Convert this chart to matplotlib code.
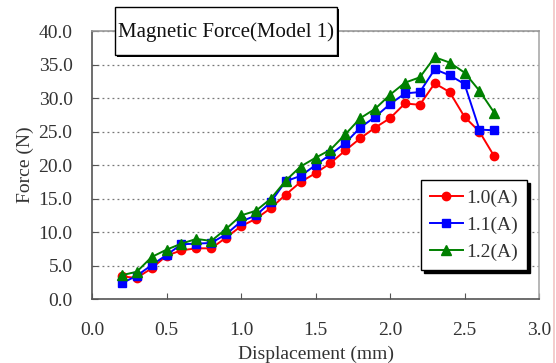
import matplotlib
matplotlib.use("Agg")
import matplotlib.pyplot as plt
from matplotlib.lines import Line2D
from matplotlib.patches import Rectangle

plt.rcParams["font.family"] = ["Liberation Serif", "DejaVu Serif"]

displacement = [0.2, 0.3, 0.4, 0.5, 0.6, 0.7, 0.8, 0.9, 1.0, 1.1, 1.2, 1.3, 1.4,
                1.5, 1.6, 1.7, 1.8, 1.9, 2.0, 2.1, 2.2, 2.3, 2.4, 2.5, 2.6, 2.7]
force_10 = [3.4, 3.2, 4.6, 6.5, 7.3, 7.6, 7.6, 9.2, 10.9, 12.0, 13.6, 15.6, 17.5,
            18.8, 20.3, 22.2, 24.0, 25.6, 27.0, 29.2, 29.0, 32.2, 30.9, 27.2, 25.0, 21.3]
force_11 = [2.4, 3.5, 5.1, 6.6, 8.2, 8.3, 8.4, 9.7, 11.6, 12.5, 14.5, 17.6, 18.4,
            20.0, 21.6, 23.3, 25.6, 27.2, 29.1, 30.7, 30.9, 34.3, 33.4, 32.1, 25.3, 25.2]
force_12 = [3.6, 4.1, 6.3, 7.4, 8.3, 9.0, 8.7, 10.5, 12.5, 13.2, 15.0, 17.7, 19.8,
            21.1, 22.3, 24.6, 27.0, 28.4, 30.5, 32.3, 33.1, 36.1, 35.3, 33.8, 31.1, 27.8]
series_labels = ["1.0(A)", "1.1(A)", "1.2(A)"]

fig = plt.figure(figsize=(5.56, 3.63), dpi=100)
ax = fig.add_axes([0.1655, 0.1755, 0.804, 0.739])

styles = [("red", "o", 6), ("blue", "s", 5.5), ("green", "^", 6.5)]
for ys, label, (c, m, ms) in zip([force_10, force_11, force_12], series_labels, styles):
    ax.plot(displacement, ys, color=c, marker=m, markersize=ms, linewidth=1.4,
            label=label)

ax.set_xlim(0, 3.0)
ax.set_ylim(0, 40)
ax.set_xticks([0.0, 0.5, 1.0, 1.5, 2.0, 2.5, 3.0])
ax.set_yticks(range(0, 41, 5))
ax.xaxis.set_major_formatter(lambda v, p: f"{v:.1f}")
ax.yaxis.set_major_formatter(lambda v, p: f"{v:.1f}")
ax.tick_params(direction="in", length=4, width=0.8, color="#555555",
               labelsize=14, labelcolor="#333333")
ax.tick_params(axis="x", pad=16)
ax.tick_params(axis="y", pad=14)
ax.yaxis.grid(True, linestyle=(0, (1.5, 2.5)), color="#777777", linewidth=0.9)
for side, col in [("left", "#555555"), ("bottom", "#555555"),
                  ("top", "#999999"), ("right", "#aaaaaa")]:
    ax.spines[side].set_color(col)
    ax.spines[side].set_linewidth(1.2)

ax.set_xlabel("Displacement (mm)", fontsize=14, color="#333333", labelpad=5)
ax.set_ylabel("Force (N)", fontsize=14, color="#333333", labelpad=3)

leg = ax.legend(loc="lower right", bbox_to_anchor=(0.973, 0.109),
                borderaxespad=0, fancybox=False, edgecolor="black",
                fontsize=14, handlelength=1.7, handletextpad=0.2,
                labelspacing=0.5, borderpad=0.45,
                shadow={"color": "black", "alpha": 1, "ox": 2, "oy": -2})
leg.get_frame().set_linewidth(1.0)
for t in leg.get_texts():
    t.set_color("#333333")

# title box with a solid drop shadow
W, H = 556, 363
bx0, bx1, by0, by1 = 115, 337, 7, 55
fig.patches.append(Rectangle(((bx0 + 2) / W, 1 - (by1 + 2) / H), (bx1 - bx0) / W,
                             (by1 - by0) / H, transform=fig.transFigure,
                             facecolor="black", edgecolor="none", zorder=5))
fig.patches.append(Rectangle((bx0 / W, 1 - by1 / H), (bx1 - bx0) / W,
                             (by1 - by0) / H, transform=fig.transFigure,
                             facecolor="white", edgecolor="black",
                             linewidth=1.0, zorder=6))
fig.text((bx0 + bx1) / 2 / W, 1 - 32 / H, "Magnetic Force(Model 1)",
         ha="center", va="center", fontsize=15, color="#111111", zorder=7)

fig.lines.append(Line2D([553.5 / W, 553.5 / W], [0, 1], transform=fig.transFigure,
                        color="#f2c4c4", linewidth=1.2))

fig.savefig("out.png", dpi=100)
